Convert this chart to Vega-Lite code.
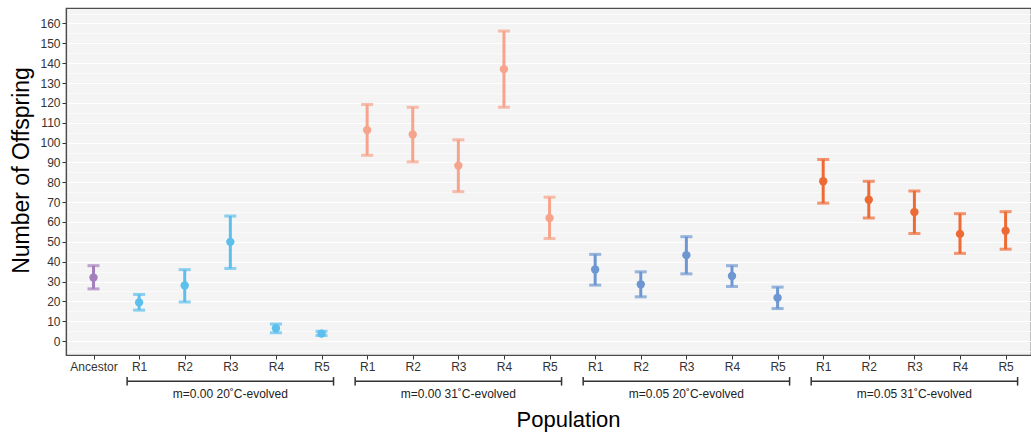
{
  "$schema": "https://vega.github.io/schema/vega-lite/v6.json",
  "width": 965,
  "height": 347,
  "autosize": {"type": "none"},
  "padding": {"left": 66, "top": 8, "right": 0, "bottom": 78},
  "background": "white",
  "config": {
    "font": "Liberation Sans",
    "view": {"fill": "#f4f4f4", "stroke": "#4d4d4d", "strokeWidth": 1.2}
  },
  "datasets": {
    "pops": [
      {"id": "Ancestor", "group": "Ancestor", "mean": 32, "lo": 26.3, "hi": 38},
      {"id": "R1 a", "group": "m=0.00 20˚C-evolved", "mean": 19.5, "lo": 15.6, "hi": 23.5},
      {"id": "R2 a", "group": "m=0.00 20˚C-evolved", "mean": 28, "lo": 19.7, "hi": 36},
      {"id": "R3 a", "group": "m=0.00 20˚C-evolved", "mean": 50, "lo": 36.6, "hi": 63},
      {"id": "R4 a", "group": "m=0.00 20˚C-evolved", "mean": 6.5, "lo": 4.2, "hi": 8.6},
      {"id": "R5 a", "group": "m=0.00 20˚C-evolved", "mean": 3.8, "lo": 2.8, "hi": 5},
      {"id": "R1 b", "group": "m=0.00 31˚C-evolved", "mean": 106.3, "lo": 93.6, "hi": 119.2},
      {"id": "R2 b", "group": "m=0.00 31˚C-evolved", "mean": 104.1, "lo": 90.3, "hi": 117.8},
      {"id": "R3 b", "group": "m=0.00 31˚C-evolved", "mean": 88.4, "lo": 75.3, "hi": 101.4},
      {"id": "R4 b", "group": "m=0.00 31˚C-evolved", "mean": 137, "lo": 117.8, "hi": 156.2},
      {"id": "R5 b", "group": "m=0.00 31˚C-evolved", "mean": 62, "lo": 51.7, "hi": 72.5},
      {"id": "R1 c", "group": "m=0.05 20˚C-evolved", "mean": 36.1, "lo": 28.2, "hi": 43.7},
      {"id": "R2 c", "group": "m=0.05 20˚C-evolved", "mean": 28.6, "lo": 22.3, "hi": 34.9},
      {"id": "R3 c", "group": "m=0.05 20˚C-evolved", "mean": 43.3, "lo": 33.9, "hi": 52.6},
      {"id": "R4 c", "group": "m=0.05 20˚C-evolved", "mean": 32.8, "lo": 27.5, "hi": 38},
      {"id": "R5 c", "group": "m=0.05 20˚C-evolved", "mean": 21.8, "lo": 16.4, "hi": 27.2},
      {"id": "R1 d", "group": "m=0.05 31˚C-evolved", "mean": 80.5, "lo": 69.5, "hi": 91.5},
      {"id": "R2 d", "group": "m=0.05 31˚C-evolved", "mean": 71.2, "lo": 62, "hi": 80.5},
      {"id": "R3 d", "group": "m=0.05 31˚C-evolved", "mean": 65, "lo": 54.2, "hi": 75.6},
      {"id": "R4 d", "group": "m=0.05 31˚C-evolved", "mean": 54, "lo": 44.2, "hi": 64.2},
      {"id": "R5 d", "group": "m=0.05 31˚C-evolved", "mean": 55.6, "lo": 46.3, "hi": 65.2}
    ],
    "groups": [
      {"group": "m=0.00 20˚C-evolved", "first": "R1 a", "mid": "R3 a", "last": "R5 a"},
      {"group": "m=0.00 31˚C-evolved", "first": "R1 b", "mid": "R3 b", "last": "R5 b"},
      {"group": "m=0.05 20˚C-evolved", "first": "R1 c", "mid": "R3 c", "last": "R5 c"},
      {"group": "m=0.05 31˚C-evolved", "first": "R1 d", "mid": "R3 d", "last": "R5 d"}
    ]
  },
  "encoding": {
    "x": {
      "field": "id",
      "type": "nominal",
      "title": "Population",
      "scale": {
        "type": "point",
        "padding": 0.58,
        "align": 0.52,
        "domain": ["Ancestor", "R1 a", "R2 a", "R3 a", "R4 a", "R5 a", "R1 b", "R2 b", "R3 b", "R4 b", "R5 b", "R1 c", "R2 c", "R3 c", "R4 c", "R5 c", "R1 d", "R2 d", "R3 d", "R4 d", "R5 d"]
      },
      "axis": {
        "labelExpr": "datum.label == 'Ancestor' ? 'Ancestor' : slice(datum.label, 0, 2)",
        "labelAngle": 0,
        "labelFontSize": 12,
        "labelColor": "#333333",
        "labelPadding": 2,
        "labelOverlap": false,
        "tickColor": "#333333",
        "tickSize": 4,
        "domainColor": "#4d4d4d",
        "domainWidth": 1.2,
        "grid": false,
        "titleFontSize": 22,
        "titleFontWeight": "normal",
        "titleColor": "#000000",
        "titlePadding": 37,
        "titleX": 502
      }
    }
  },
  "layer": [
    {
      "data": {"name": "pops"},
      "encoding": {
        "y": {
          "field": "lo",
          "type": "quantitative",
          "title": "Number of Offspring",
          "scale": {"domain": [-7, 167.8], "nice": false, "zero": false},
          "axis": {
            "tickCount": 35,
            "labelExpr": "datum.value % 10 == 0 ? datum.label : ''",
            "labelOverlap": false,
            "labelFontSize": 12,
            "labelColor": "#333333",
            "labelPadding": 2,
            "tickColor": "#333333",
            "tickSize": 4,
            "tickOpacity": {"condition": {"test": "datum.value % 10 == 0", "value": 1}, "value": 0},
            "grid": true,
            "gridColor": "#ffffff",
            "gridWidth": 1.2,
            "gridOpacity": {"condition": {"test": "datum.value % 10 == 0", "value": 1}, "value": 0.55},
            "domainColor": "#4d4d4d",
            "domainWidth": 1.2,
            "titleFontSize": 23,
            "titleFontWeight": "normal",
            "titleColor": "#000000",
            "titlePadding": 6,
            "titleY": 162
          }
        },
        "color": {
          "field": "group",
          "type": "nominal",
          "legend": null,
          "scale": {
            "domain": ["Ancestor", "m=0.00 20˚C-evolved", "m=0.00 31˚C-evolved", "m=0.05 20˚C-evolved", "m=0.05 31˚C-evolved"],
            "range": ["#a57fbd", "#5dbfec", "#f6a48b", "#6e97d2", "#ee6a34"]
          }
        }
      },
      "layer": [
        {
          "mark": {"type": "rule", "strokeWidth": 3},
          "encoding": {"y2": {"field": "hi"}}
        },
        {
          "mark": {"type": "tick", "thickness": 3, "size": 12},
          "encoding": {}
        },
        {
          "mark": {"type": "tick", "thickness": 3, "size": 12},
          "encoding": {"y": {"field": "hi", "type": "quantitative"}}
        },
        {
          "mark": {"type": "point", "filled": true, "size": 70, "opacity": 1},
          "encoding": {"y": {"field": "mean", "type": "quantitative"}}
        }
      ]
    },
    {
      "data": {"name": "groups"},
      "mark": {"type": "rule", "color": "#333333", "strokeWidth": 1.5, "xOffset": -12, "x2Offset": 12},
      "encoding": {
        "x": {"field": "first", "type": "nominal"},
        "x2": {"field": "last"},
        "y": {"datum": -20.2, "type": "quantitative"}
      }
    },
    {
      "data": {"name": "groups"},
      "mark": {"type": "rule", "color": "#333333", "strokeWidth": 1.5, "xOffset": -12},
      "encoding": {
        "x": {"field": "first", "type": "nominal"},
        "y": {"datum": -18.1, "type": "quantitative"},
        "y2": {"datum": -22.4}
      }
    },
    {
      "data": {"name": "groups"},
      "mark": {"type": "rule", "color": "#333333", "strokeWidth": 1.5, "xOffset": 12},
      "encoding": {
        "x": {"field": "last", "type": "nominal"},
        "y": {"datum": -18.1, "type": "quantitative"},
        "y2": {"datum": -22.4}
      }
    },
    {
      "data": {"name": "groups"},
      "mark": {"type": "text", "fontSize": 12, "color": "#222222", "baseline": "middle", "align": "center"},
      "encoding": {
        "x": {"field": "mid", "type": "nominal"},
        "y": {"datum": -26.4, "type": "quantitative"},
        "text": {"field": "group"}
      }
    }
  ]
}
